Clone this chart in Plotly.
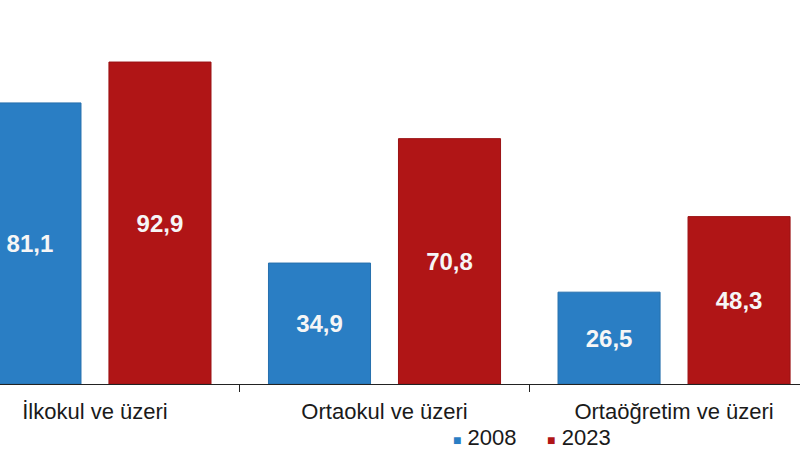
import plotly.graph_objects as go

categories = ["İlkokul ve üzeri", "Ortaokul ve üzeri", "Ortaöğretim ve üzeri"]
values_2008 = [81.1, 34.9, 26.5]
values_2023 = [92.9, 70.8, 48.3]
series_names = ["2008", "2023"]

BLUE = "#2a7ec4"
RED = "#b01516"
FONT = "Liberation Sans, Arial, sans-serif"


def fmt(v):
    return f"{v:.1f}".replace(".", ",")


fig = go.Figure()
for name, vals, col, edge in [
    (series_names[0], values_2008, BLUE, "#2670ad"),
    (series_names[1], values_2023, RED, "#9a1214"),
]:
    fig.add_trace(go.Bar(
        name=name,
        x=categories,
        y=vals,
        marker=dict(color=col, line=dict(color=edge, width=1)),
        text=[fmt(v) for v in vals],
        textposition="inside",
        insidetextanchor="middle",
        textangle=0,
        textfont=dict(family=FONT, size=24, color="#f6f6f6", weight="bold"),
        showlegend=False,
    ))

fig.update_layout(
    width=800, height=450,
    margin=dict(l=0, r=0, t=0, b=66),
    paper_bgcolor="white", plot_bgcolor="white",
    barmode="group", bargap=0.102, bargroupgap=0.215,
    xaxis=dict(
        type="category",
        range=[-0.328, 2.435],
        tickson="boundaries",
        ticks="outside", ticklen=7, tickcolor="#222", tickwidth=1,
        ticklabelstandoff=8,
        showline=True, linecolor="#222", linewidth=1,
        showgrid=False,
        tickfont=dict(family=FONT, size=22, color="#1a1a1a"),
    ),
    yaxis=dict(range=[0, 110.8], visible=False, showgrid=False),
    uniformtext=dict(mode=False),
)

legend_text = (
    f"<span style='color:{BLUE};font-size:14px'>■</span> {series_names[0]}"
    f"&nbsp;&nbsp;&nbsp;&nbsp;&nbsp;"
    f"<span style='color:{RED};font-size:14px'>■</span> {series_names[1]}"
)
fig.add_annotation(
    text=legend_text, xref="paper", yref="paper",
    x=451 / 800, y=(384 - 437) / 384, xanchor="left", yanchor="middle",
    showarrow=False, font=dict(family=FONT, size=22, color="#1a1a1a"),
)

fig.write_html("out.html")
